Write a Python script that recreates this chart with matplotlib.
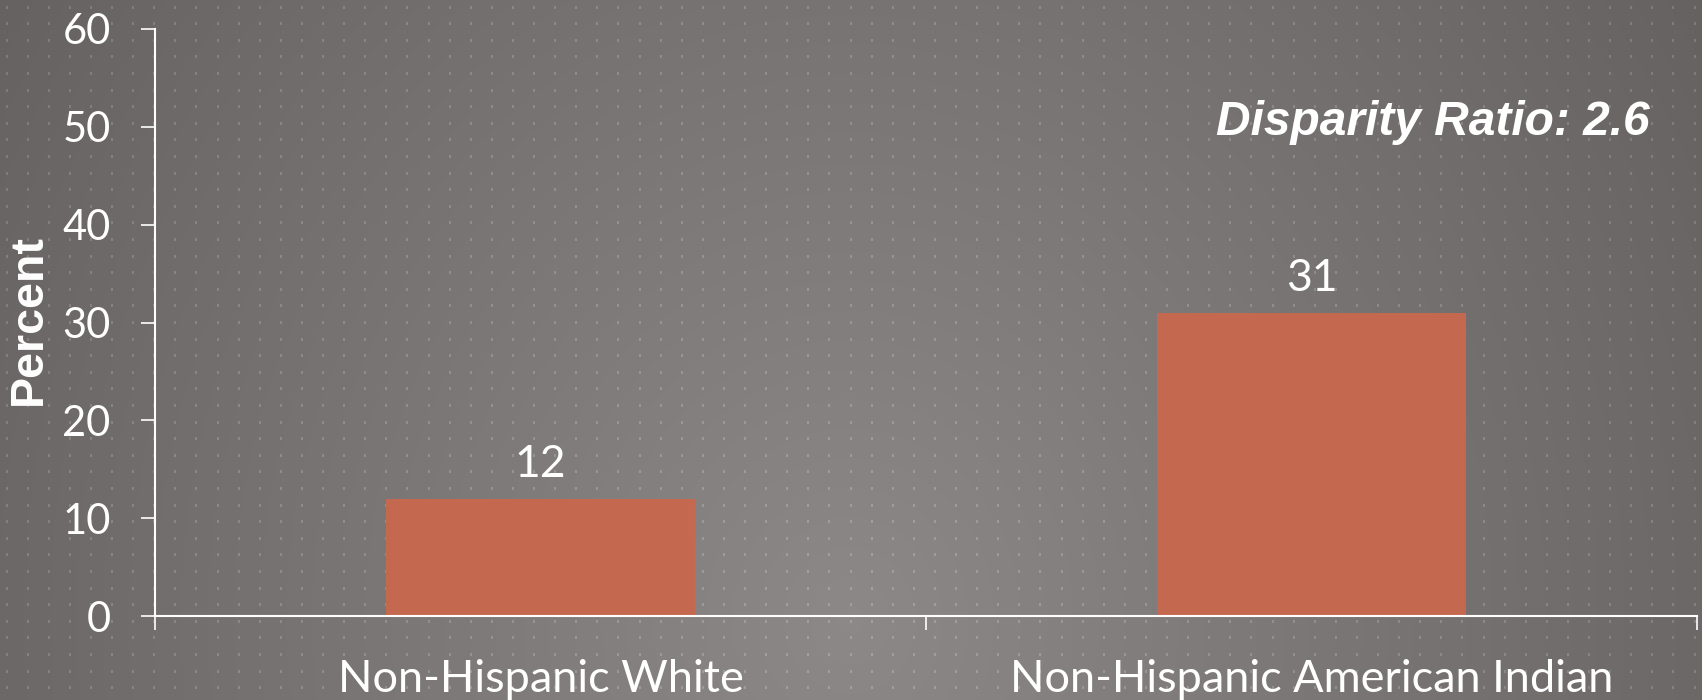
import numpy as np
import matplotlib
matplotlib.use("Agg")
import matplotlib.pyplot as plt

categories = ["Non-Hispanic White", "Non-Hispanic American Indian"]
percent = [12, 31]
y_ticks = [0, 10, 20, 30, 40, 50, 60]
ratio_text = "Disparity Ratio: 2.6"

W, H = 1702, 700


def background():
    # radial grey gradient with a faint dotted grid, like the slide template
    yy, xx = np.mgrid[0:H, 0:W]
    d = np.sqrt(((xx - 850) / (850 / 32.4)) ** 2 + ((yy - 620) / (620 / 21.0)) ** 2)
    v = 141 - d
    img = np.stack([v, v - 4.5, v - 5], axis=-1)
    for yd in np.arange(6, H, 16.6).astype(int):
        for xd in np.arange(6, W, 21.1).astype(int):
            img[yd:yd + 3, xd:xd + 2] += 24
    return np.clip(img, 0, 255) / 255.0


fig = plt.figure(figsize=(W / 100, H / 100), dpi=100)
bg = fig.add_axes([0, 0, 1, 1], zorder=-1)
bg.imshow(background(), aspect="auto", interpolation="nearest")
bg.axis("off")

ax = fig.add_axes([155 / W, 84 / H, 1542 / W, 587 / H])
ax.patch.set_alpha(0)

x = np.arange(len(categories)) + 0.5
bars = ax.bar(x, percent, width=0.4, color="#C4694F")
ax.bar_label(bars, labels=[str(p) for p in percent], padding=10,
             color="white", fontsize=32, family="Lato")

ax.set_xlim(0, len(categories))
ax.set_ylim(0, 60)
ax.set_yticks(y_ticks)
ax.set_xticks(np.arange(len(categories) + 1))
ax.set_xticklabels([])
ax.set_xticks(x, minor=True)
ax.set_xticklabels(categories, minor=True)

for s in ["top", "right"]:
    ax.spines[s].set_visible(False)
for s in ["left", "bottom"]:
    ax.spines[s].set_color("white")
    ax.spines[s].set_linewidth(1.5)

ax.tick_params(axis="both", which="major", direction="out", length=10,
               width=1.2, color="white", labelcolor="white", labelsize=30)
ax.tick_params(axis="y", pad=22)
ax.tick_params(axis="x", which="minor", length=0, pad=31,
               labelcolor="white", labelsize=32.5)
for lab in ax.get_yticklabels() + ax.get_xticklabels(minor=True):
    lab.set_family("Lato")

fig.text(29 / W, 1 - 320 / H, "Percent", rotation=90, ha="center", va="center",
         color="white", fontsize=33.5, fontweight="bold", family="Liberation Sans")
fig.text(1650 / W, 1 - 135 / H, ratio_text, ha="right", va="baseline",
         color="white", fontsize=34.5, fontweight="bold", fontstyle="italic",
         family="Liberation Sans")

fig.savefig("out.png", dpi=100)
